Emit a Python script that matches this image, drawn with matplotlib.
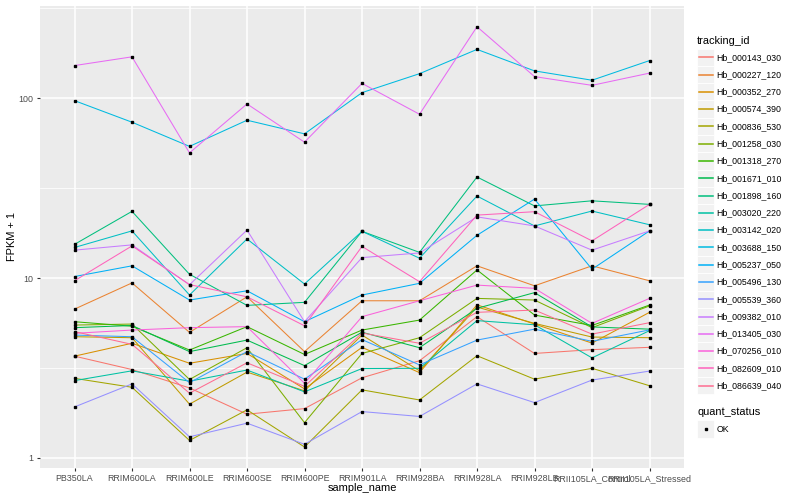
import numpy as np
import matplotlib
matplotlib.use("Agg")
import matplotlib.pyplot as plt
from matplotlib.patches import Rectangle
from matplotlib.lines import Line2D

plt.rcParams['font.family'] = ['Liberation Sans', 'DejaVu Sans']

samples = ["PB350LA", "RRIM600LA", "RRIM600LE", "RRIM600SE", "RRIM600PE",
           "RRIM901LA", "RRIM928BA", "RRIM928LA", "RRIM928LB",
           "RRII105LA_Control", "RRII105LA_Stressed"]

tracking_ids = ["Hb_000143_030", "Hb_000227_120", "Hb_000352_270", "Hb_000574_390",
                "Hb_000836_530", "Hb_001258_030", "Hb_001318_270", "Hb_001671_010",
                "Hb_001898_160", "Hb_003020_220", "Hb_003142_020", "Hb_003688_150",
                "Hb_005237_050", "Hb_005496_130", "Hb_005539_360", "Hb_009382_010",
                "Hb_013405_030", "Hb_070256_010", "Hb_082609_010", "Hb_086639_040"]

colors = ["#F8766D", "#EA8331", "#D89000", "#C09B00", "#A3A500", "#7CAE00",
          "#39B600", "#00BB4E", "#00BF7D", "#00C1A3", "#00BFC4", "#00BAE0",
          "#00B0F6", "#35A2FF", "#9590FF", "#C77CFF", "#E76BF3", "#FA62DB",
          "#FF62BC", "#FF6C91"]

# FPKM + 1 values per series, in sample order
hb_000143_030 = [3.68, 3.1, 2.45, 1.75, 1.88, 2.79, 3.47, 6.1, 3.81, 4.0, 4.12]
hb_000227_120 = [6.72, 9.4, 4.99, 7.87, 3.9, 7.48, 7.48, 11.7, 9.06, 11.7, 9.66]
hb_000352_270 = [3.68, 4.34, 3.36, 3.81, 2.42, 4.12, 2.98, 7.1, 5.55, 4.35, 6.45]
hb_000574_390 = [4.72, 4.66, 1.99, 3.0, 2.36, 4.82, 3.05, 6.9, 5.6, 4.7, 4.66]
hb_000836_530 = [2.77, 2.47, 1.25, 1.85, 1.15, 2.39, 2.1, 3.7, 2.74, 3.15, 2.52]
hb_001258_030 = [5.48, 5.55, 2.73, 4.1, 1.57, 3.81, 4.66, 7.71, 7.55, 5.3, 7.0]
hb_001318_270 = [5.72, 5.4, 3.98, 5.37, 3.76, 5.14, 5.84, 11.1, 6.23, 5.45, 7.08]
hb_001671_010 = [5.3, 5.45, 3.9, 4.52, 3.26, 5.0, 4.1, 6.79, 8.3, 5.35, 5.2]
hb_001898_160 = [15.4, 23.5, 10.5, 7.05, 7.33, 18.2, 13.9, 36.5, 25.2, 26.9, 25.7]
hb_003020_220 = [2.69, 3.05, 2.67, 3.08, 2.33, 3.14, 3.15, 5.8, 5.5, 3.6, 5.1]
hb_003142_020 = [14.8, 18.3, 8.05, 16.5, 9.27, 18.2, 12.9, 28.6, 19.5, 23.6, 19.8]
hb_003688_150 = [97, 73.6, 54, 75.5, 63.4, 107.5, 137, 187, 142, 126, 162]
hb_005237_050 = [10.2, 11.7, 7.55, 8.5, 5.72, 8.05, 9.35, 17.3, 27.5, 11.2, 18.3]
hb_005496_130 = [4.82, 4.72, 2.62, 3.9, 2.74, 4.55, 3.29, 4.52, 5.2, 4.45, 5.15]
hb_005539_360 = [1.92, 2.58, 1.31, 1.56, 1.19, 1.81, 1.7, 2.58, 2.03, 2.71, 3.04]
hb_009382_010 = [14.3, 15.3, 9.18, 18.5, 5.72, 13.0, 13.8, 21.9, 19.5, 14.3, 18.3]
hb_013405_030 = [152, 170, 49.7, 93, 57, 121, 81.5, 250, 132, 118, 138]
hb_070256_010 = [4.93, 5.14, 5.3, 5.37, 2.6, 6.1, 7.48, 9.14, 8.77, 5.6, 7.71]
hb_082609_010 = [9.66, 15.1, 9.2, 7.87, 5.43, 15.0, 9.55, 22.4, 23.4, 16.1, 25.7]
hb_086639_040 = [5.04, 4.28, 2.29, 3.38, 2.5, 4.95, 4.34, 6.45, 6.64, 4.88, 5.65]

series = [hb_000143_030, hb_000227_120, hb_000352_270, hb_000574_390, hb_000836_530,
          hb_001258_030, hb_001318_270, hb_001671_010, hb_001898_160, hb_003020_220,
          hb_003142_020, hb_003688_150, hb_005237_050, hb_005496_130, hb_005539_360,
          hb_009382_010, hb_013405_030, hb_070256_010, hb_082609_010, hb_086639_040]

W, H = 800, 500
fig = plt.figure(figsize=(8, 5), dpi=100)
fig.patch.set_facecolor("white")

def fx(x):
    return x / W

def fy(y):
    return 1 - y / H

left, right, top, bottom = 40, 684, 5.7, 468
ax = fig.add_axes([fx(left), fy(bottom), (right - left) / W, (bottom - top) / H])
ax.set_facecolor("#EBEBEB")
for s in ax.spines.values():
    s.set_visible(False)

xs = np.arange(len(samples))
for vals, c in zip(series, colors):
    ax.plot(xs, vals, color=c, lw=0.75, zorder=3, solid_capstyle="butt")
for vals in series:
    ax.plot(xs, vals, ls="none", marker="s", ms=2.0, color="black", zorder=4)

ax.set_yscale("log")
allv = np.concatenate([np.asarray(v, float) for v in series])
lo, hi = np.log10(allv.min()), np.log10(allv.max())
pad = (hi - lo) * 0.05
ax.set_ylim(10 ** (lo - pad), 10 ** (hi + pad))
ax.set_xlim(-0.6, len(samples) - 0.4)

ax.set_yticks([1, 10, 100])
ax.set_yticklabels(["1", "10", "100"])
ax.set_yticks([10 ** 0.5, 10 ** 1.5, 10 ** 2.5], minor=True)
ax.yaxis.set_minor_formatter(matplotlib.ticker.NullFormatter())
ax.set_xticks(xs)
ax.set_xticklabels(samples)

ax.grid(True, which="major", color="white", lw=1.1, zorder=0)
ax.grid(True, which="minor", axis="y", color="white", lw=0.55, zorder=0)
ax.set_axisbelow(True)
ax.tick_params(axis="both", which="major", length=2.5, width=0.8, color="#333333",
               labelsize=6.4, labelcolor="#4D4D4D", pad=2)
ax.tick_params(axis="y", which="minor", length=0)

fig.text(fx((left + right) / 2), fy(488), "sample_name", ha="center", va="center",
         fontsize=7.9, color="black")
fig.text(fx(12), fy((top + bottom) / 2), "FPKM + 1", ha="center", va="center",
         rotation=90, fontsize=7.9, color="black")

# legend: tracking_id
fig.text(fx(697), fy(40.5), "tracking_id", ha="left", va="center", fontsize=7.9)
step = 17.28
for i, (tid, c) in enumerate(zip(tracking_ids, colors)):
    cy = 57.3 + i * step
    fig.patches.append(Rectangle((fx(697), fy(cy + step / 2)), step / W, step / H,
                                 transform=fig.transFigure, facecolor="#F2F2F2",
                                 edgecolor="white", lw=0.6))
    fig.lines.append(Line2D([fx(698.7), fx(712.6)], [fy(cy), fy(cy)],
                            transform=fig.transFigure, color=c, lw=1.1))
    fig.text(fx(716.5), fy(cy), tid, ha="left", va="center", fontsize=6.3)

# legend: quant_status
fig.text(fx(697), fy(412), "quant_status", ha="left", va="center", fontsize=7.9)
cy = 429
fig.patches.append(Rectangle((fx(697), fy(cy + step / 2)), step / W, step / H,
                             transform=fig.transFigure, facecolor="#F2F2F2",
                             edgecolor="white", lw=0.6))
fig.lines.append(Line2D([fx(705.6)], [fy(cy)], transform=fig.transFigure, ls="none",
                        marker="s", ms=2.0, color="black"))
fig.text(fx(716.5), fy(cy), "OK", ha="left", va="center", fontsize=6.3)

fig.savefig("out.png", dpi=100)
